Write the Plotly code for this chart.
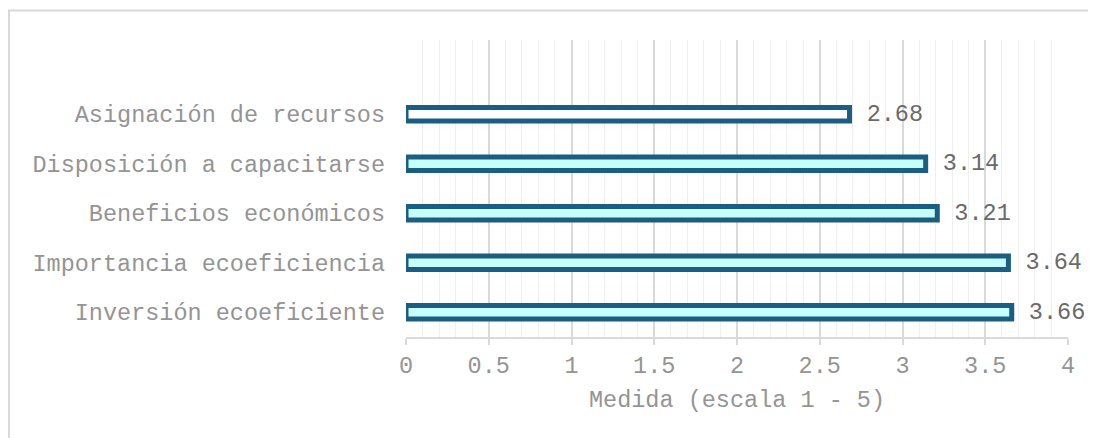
"""Horizontal bar chart: medida (escala 1 - 5) por dimensión."""

import plotly.graph_objects as go

# Data (bottom to top)
CATEGORIES = [
    "Inversión ecoeficiente",
    "Importancia ecoeficiencia",
    "Beneficios económicos",
    "Disposición a capacitarse",
    "Asignación de recursos",
]
VALUES = [3.66, 3.64, 3.21, 3.14, 2.68]
LABELS = ["3.66", "3.64", "3.21", "3.14", "2.68"]
X_TICKS = [0, 0.5, 1, 1.5, 2, 2.5, 3, 3.5, 4]
X_TICK_TEXT = ["0", "0.5", "1", "1.5", "2", "2.5", "3", "3.5", "4"]

COLOR_EDGE = "#1a5f82"
COLOR_FILL = "#c6fdfd"
COLOR_FILL_TOP = "#ffffff"
COLOR_TEXT = "#949494"
COLOR_LABEL = "#6a6a6a"
COLOR_GRID = "#d9d9d9"
COLOR_MINOR = "#efefef"
FONT = "Liberation Mono, Courier New, monospace"
FONT_SIZE = 23.5

# the page body adds an 8 px offset, so the figure is 8 px smaller
W, H = 1088, 430
L, R, T, B = 398, 28, 32, 101

fills = [COLOR_FILL] * (len(VALUES) - 1) + [COLOR_FILL_TOP]

fig = go.Figure()
fig.add_trace(
    go.Bar(
        y=CATEGORIES,
        x=VALUES,
        orientation="h",
        width=0.27,
        marker=dict(color=fills, line=dict(color=COLOR_EDGE, width=5)),
        text=[" " + s for s in LABELS],
        textposition="outside",
        constraintext="none",
        textfont=dict(family=FONT, size=FONT_SIZE, color=COLOR_LABEL),
        cliponaxis=False,
        hoverinfo="x+y",
    )
)

# light frame around the chart area (left and top edges visible)
pw, ph = W - L - R, H - T - B
fig.add_shape(
    type="rect",
    xref="paper",
    yref="paper",
    x0=(1 - L) / pw,
    x1=(W + 20 - L) / pw,
    y0=(H - B - (H + 20)) / ph,
    y1=(H - B - 2.5) / ph,
    line=dict(color=COLOR_GRID, width=2),
    fillcolor="rgba(0,0,0,0)",
    layer="below",
)

fig.update_layout(
    width=W,
    height=H,
    margin=dict(l=L, r=R, t=T, b=B, pad=0),
    paper_bgcolor="white",
    plot_bgcolor="white",
    showlegend=False,
    font=dict(family=FONT, size=FONT_SIZE, color=COLOR_TEXT),
    xaxis=dict(
        range=[0, 4],
        tickvals=X_TICKS,
        ticktext=X_TICK_TEXT,
        showgrid=True,
        gridcolor=COLOR_GRID,
        gridwidth=1.5,
        minor=dict(dtick=0.1, showgrid=True, gridcolor=COLOR_MINOR, gridwidth=1),
        showline=True,
        linecolor=COLOR_GRID,
        linewidth=1.5,
        ticks="outside",
        ticklen=6,
        tickcolor=COLOR_GRID,
        tickwidth=1.5,
        zeroline=False,
        ticklabelstandoff=0,
        tickfont=dict(family=FONT, size=FONT_SIZE, color=COLOR_TEXT),
        title=dict(
            text="Medida (escala 1 - 5)",
            standoff=12,
            font=dict(family=FONT, size=FONT_SIZE, color=COLOR_TEXT),
        ),
    ),
    yaxis=dict(
        type="category",
        range=[-0.5, 5.5],
        showgrid=False,
        showline=False,
        zeroline=False,
        ticks="",
        ticklabelstandoff=20,
        tickfont=dict(family=FONT, size=FONT_SIZE, color=COLOR_TEXT),
    ),
)

fig.write_html("out.html")
